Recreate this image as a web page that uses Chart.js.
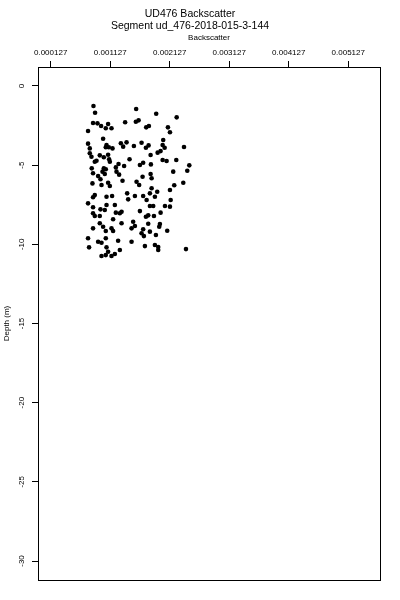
<!DOCTYPE html>
<html>
<head>
<meta charset="utf-8">
<script src="https://cdn.jsdelivr.net/npm/chart.js@4.4.1/dist/chart.umd.min.js"></script>
<style>
  html, body { margin: 0; padding: 0; background: #fff; }
  #wrap { width: 400px; height: 600px; }
</style>
</head>
<body>
<div id="wrap"><canvas id="c" width="400" height="600"></canvas></div>
<script>
// backscatter values (x) and depth in m (y)
const backscatter = [
  0.000846, 0.000873, 0.001563, 0.001900, 0.002244, 0.000839, 0.000913, 0.000974, 0.001092, 0.001053,
  0.001149, 0.001378, 0.001558, 0.001604, 0.001732, 0.001777, 0.002097, 0.002131, 0.000755, 0.001008,
  0.000755, 0.000784, 0.001065, 0.001053, 0.001104, 0.001166, 0.001306, 0.001345, 0.001402, 0.001525,
  0.001654, 0.001727, 0.001772, 0.002018, 0.002008, 0.002042, 0.002367, 0.000784, 0.000812, 0.000952,
  0.001092, 0.001109, 0.001121, 0.000868, 0.000897, 0.001020, 0.001452, 0.001806, 0.001924, 0.001974,
  0.002008, 0.002075, 0.002237, 0.002456, 0.000817, 0.001020, 0.001053, 0.001222, 0.001267, 0.001361,
  0.001626, 0.001681, 0.001811,
  0.000839, 0.000924, 0.000998, 0.001036, 0.001233, 0.001277, 0.000964, 0.000829, 0.000981, 0.001092,
  0.001121, 0.001334, 0.001671, 0.001806, 0.001823, 0.002186, 0.002422, 0.002355, 0.002203, 0.001570,
  0.001614, 0.000868, 0.000839, 0.001065, 0.001159, 0.001412, 0.001429, 0.001542, 0.001681, 0.001739,
  0.001794, 0.001917, 0.001878, 0.001823, 0.002131, 0.002143, 0.000755, 0.000839, 0.000964, 0.001036,
  0.001065, 0.001205, 0.001222, 0.001318, 0.001289, 0.000839, 0.000868, 0.000952, 0.001176, 0.001626,
  0.001727, 0.001794, 0.001850, 0.001974, 0.002047, 0.002131, 0.000952, 0.001008, 0.000839, 0.001053,
  0.001149, 0.001176, 0.001318, 0.001513, 0.001542, 0.001486, 0.001681, 0.001654, 0.001794, 0.001895,
  0.001962, 0.001951, 0.002085, 0.000755, 0.000772, 0.000924, 0.000981, 0.001065, 0.001053, 0.001260,
  0.001486, 0.001710, 0.001878, 0.001934, 0.002400, 0.001289, 0.001092, 0.000981, 0.001053, 0.001149,
  0.001205, 0.001766, 0.001862, 0.001766, 0.001693, 0.001934
];
const depth = [
  -1.26, -1.69, -1.45, -1.75, -1.98, -2.34, -2.36, -2.53, -2.40, -2.67,
  -2.67, -2.29, -2.26, -2.17, -2.61, -2.53, -2.61, -2.92, -2.84, -3.33,
  -3.64, -3.94, -3.73, -3.87, -3.87, -3.94, -3.62, -3.83, -3.56, -3.79,
  -3.58, -3.90, -3.75, -3.41, -3.73, -3.90, -3.85, -4.25, -4.47, -4.38,
  -4.34, -4.63, -4.78, -4.78, -4.72, -4.50, -4.63, -4.36, -4.21, -4.11,
  -4.67, -4.74, -4.67, -5.01, -5.20, -5.20, -5.26, -5.14, -4.93, -5.05,
  -4.99, -4.85, -4.95,
  -5.51, -5.69, -5.41, -5.56, -5.41, -5.60, -5.89, -6.15, -6.25, -6.11,
  -6.32, -5.98, -5.73, -5.56, -5.83, -5.41, -5.35, -6.11, -6.27, -6.05,
  -6.25, -6.89, -7.03, -6.99, -6.95, -6.78, -7.16, -6.95, -6.95, -7.20,
  -6.78, -6.68, -6.99, -6.46, -6.57, -7.20, -7.41, -7.66, -7.79, -7.83,
  -7.52, -7.52, -8.00, -7.94, -8.04, -8.04, -8.21, -8.21, -8.42, -7.90,
  -8.26, -7.58, -7.58, -8.00, -7.58, -7.62, -8.67, -8.89, -8.99, -9.16,
  -8.99, -9.16, -8.67, -8.57, -8.84, -8.99, -9.05, -9.30, -9.20, -9.41,
  -8.72, -8.89, -9.14, -9.62, -10.19, -9.84, -9.90, -10.19, -9.62, -9.77,
  -9.84, -10.11, -10.04, -10.36, -10.30, -10.36, -10.47, -10.74, -10.68, -10.74,
  -10.61, -8.17, -8.21, -8.70, -9.48, -10.17
];
const xTicks = [0.000127, 0.001127, 0.002127, 0.003127, 0.004127, 0.005127];
const yTicks = [0, -5, -10, -15, -20, -25, -30];

const FONT = '"Liberation Sans", Arial, Helvetica, sans-serif';

// full frame round the plot, like R's box()
const boxPlugin = {
  id: 'box',
  afterDraw(chart) {
    const { ctx, chartArea: a } = chart;
    ctx.save();
    ctx.strokeStyle = '#000';
    ctx.lineWidth = 1;
    ctx.strokeRect(Math.round(a.left) + 0.5, Math.round(a.top) + 0.5,
      Math.round(a.right - a.left), Math.round(a.bottom - a.top));
    ctx.restore();
  }
};

const points = backscatter.map((x, i) => ({ x: x, y: depth[i] }));

new Chart(document.getElementById('c'), {
  type: 'scatter',
  data: {
    datasets: [{
      data: points,
      backgroundColor: '#000',
      borderWidth: 0,
      pointRadius: 2.3,
      pointStyle: 'circle'
    }]
  },
  options: {
    responsive: false,
    animation: false,
    devicePixelRatio: 1,
    layout: { padding: { left: 0, right: 20, top: 0, bottom: 20 } },
    plugins: {
      legend: { display: false },
      tooltip: { enabled: false },
      title: {
        display: true,
        text: ['UD476 Backscatter', 'Segment ud_476-2018-015-3-144'],
        color: '#000',
        font: { family: FONT, size: 10.5, weight: 'normal', lineHeight: 1.15 },
        padding: { top: 8, bottom: 0 }
      }
    },
    scales: {
      x: {
        type: 'linear',
        position: 'top',
        min: -0.000086,
        max: 0.00566,
        afterBuildTicks: s => { s.ticks = xTicks.map(v => ({ value: v })); },
        afterFit: s => { s.height = 34.85; },
        ticks: {
          color: '#000',
          font: { family: FONT, size: 8 },
          maxRotation: 0,
          padding: 3,
          callback: v => v.toFixed(6)
        },
        grid: { drawOnChartArea: false, tickLength: 6, color: '#000', tickColor: '#000' },
        border: { display: false },
        title: {
          display: true,
          text: 'Backscatter',
          color: '#000',
          font: { family: FONT, size: 8 },
          padding: { top: 1, bottom: 0 }
        }
      },
      y: {
        type: 'linear',
        min: -31.2,
        max: 1.2,
        afterBuildTicks: s => { s.ticks = yTicks.map(v => ({ value: v })); },
        afterFit: s => { s.width = 38; },
        ticks: {
          color: '#000',
          font: { family: FONT, size: 8 },
          minRotation: 90,
          maxRotation: 90,
          crossAlign: 'center',
          padding: 4
        },
        grid: { drawOnChartArea: false, tickLength: 6, color: '#000', tickColor: '#000' },
        border: { display: false },
        title: {
          display: true,
          text: 'Depth (m)',
          color: '#000',
          font: { family: FONT, size: 8 },
          padding: { top: 2, bottom: 0 }
        }
      }
    }
  },
  plugins: [boxPlugin]
});
</script>
</body>
</html>
